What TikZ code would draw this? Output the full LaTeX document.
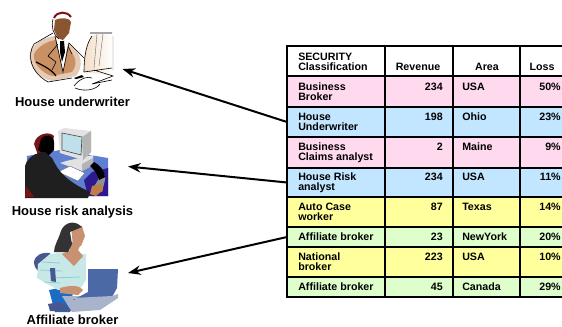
\documentclass[tikz,border=0pt]{standalone}
\usepackage{fontspec}
\setmainfont{Liberation Sans}
\usetikzlibrary{arrows.meta}
\definecolor{rpink}{HTML}{FFD9EE}
\definecolor{rblue}{HTML}{C2E6FF}
\definecolor{ryellow}{HTML}{FFFF9C}
\definecolor{rgreen}{HTML}{DEFFCC}
\definecolor{skinA}{HTML}{BE7C48}
\definecolor{skinB}{HTML}{F3DDC6}
\definecolor{skinC}{HTML}{8A5531}
\definecolor{deskblue}{HTML}{5F80D0}
\definecolor{deskdark}{HTML}{2E1A8C}
\definecolor{monlight}{HTML}{E2E2E2}
\definecolor{monmid}{HTML}{B4B4B4}
\definecolor{monscreen}{HTML}{BFE0EA}
\definecolor{hairred}{HTML}{7A1418}
\definecolor{lapblue}{HTML}{4A69A5}
\definecolor{lapgrey}{HTML}{A9B4CC}
\definecolor{chairblue}{HTML}{46588F}
\definecolor{jeansblue}{HTML}{1C6CC4}
\definecolor{topteal}{HTML}{C8E8E8}
\definecolor{topstreak}{HTML}{8CCCD8}
\definecolor{wskin}{HTML}{C89272}
\tikzset{
  x=0.75pt,y=-0.75pt,
  rowbox/.style={anchor=north west,inner sep=0pt,outer sep=0pt,minimum width=206.25pt},
  cell/.style={anchor=base west,inner sep=0pt,font=\bfseries\fontsize{8}{7.5}\selectfont,align=left},
  num/.style={anchor=base east,inner sep=0pt,font=\bfseries\fontsize{8}{7.5}\selectfont},
  hd/.style={anchor=base,inner sep=0pt,font=\bfseries\fontsize{8}{7.5}\selectfont},
  figlabel/.style={anchor=base,inner sep=0pt,font=\bfseries\fontsize{9.75}{11}\selectfont},
  conn/.style={-{Stealth[length=9.5pt,width=7pt]},line width=1.5pt,black},
  ink/.style={line width=0.45pt,black},
  faint/.style={line width=0.3pt,black!60}
}
\begin{document}
\begin{tikzpicture}
\useasboundingbox (0,0) rectangle (562,326);
% ---- table rows
\node[rowbox,fill=white,minimum height=22.5pt] (r0) at (287,46) {};
\node[rowbox,fill=rpink,minimum height=23.25pt] (r1) at (287,76) {};
\node[rowbox,fill=rblue,minimum height=22.5pt] (r2) at (287,107) {};
\node[rowbox,fill=rpink,minimum height=23.25pt] (r3) at (287,137) {};
\node[rowbox,fill=rblue,minimum height=21.75pt] (r4) at (287,168) {};
\node[rowbox,fill=ryellow,minimum height=22.5pt] (r5) at (287,197) {};
\node[rowbox,fill=rgreen,minimum height=15pt] (r6) at (287,227) {};
\node[rowbox,fill=ryellow,minimum height=22.5pt] (r7) at (287,247) {};
\node[rowbox,fill=rgreen,minimum height=15pt] (r8) at (287,277) {};
% grid
\foreach \yy in {76,107,137,168,197,227,247,277}
  \draw[line width=0.8pt] (287,\yy) -- (562,\yy);
\foreach \xx in {385,453,520}
  \draw[line width=0.8pt] (\xx,46) -- (\xx,297);
\draw[line width=1.8pt] (562,46) -- (287,46) -- (287,297) -- (562,297);
% ---- table text
\node[cell] at (298,70) {SECURITY\\Classification};
\node[hd] at (418,70) {Revenue};
\node[hd] at (487,70) {Area};
\node[hd] at (542,70) {Loss};
\node[cell] at (298,100) {Business\\Broker};
\node[cell] at (298,130) {House\\Underwriter};
\node[cell] at (298,160.5) {Business\\Claims analyst};
\node[cell] at (298,190) {House Risk\\analyst};
\node[cell] at (298,220.5) {Auto Case\\worker};
\node[cell] at (298,240.5) {Affiliate broker};
\node[cell] at (298,270.5) {National\\broker};
\node[cell] at (298,290.5) {Affiliate broker};
\foreach \yy/\a/\b/\c in {90/234/USA/50\%,120/198/Ohio/23\%,150.5/2/Maine/9\%,180/234/USA/11\%,210.5/87/Texas/14\%,240.5/23/NewYork/20\%,260.5/223/USA/10\%,290.5/45/Canada/29\%}{
  \node[num] at (443,\yy) {\a};
  \node[cell] at (462,\yy) {\b};
  \node[num] at (561,\yy) {\c};
}
% ---- underwriter
\fill[skinA!40!white] (30,52) .. controls (34,42) and (48,36) .. (56,36) -- (70,44) .. controls (82,54) and (84,66) .. (76,76) -- (52,81) .. controls (40,79) and (27,66) .. (30,52) -- cycle;
\fill[skinA!85!white] (34,54) .. controls (38,46) and (48,41) .. (56,40) -- (68,48) .. controls (76,56) and (78,64) .. (72,72) -- (52,76) .. controls (44,74) and (32,64) .. (34,54) -- cycle;
\fill[white] (56,38) -- (68,42) -- (63,72) -- cycle;
\shade[left color=skinB,right color=white,draw=none] (92,36) .. controls (100,33) and (108,34) .. (112,36) -- (113,76) -- (84,72) .. controls (83,58) and (86,44) .. (92,36) -- cycle;
\fill[skinC] (55,20) .. controls (62,17) and (70,18) .. (71,22) -- (69,33) -- (63,40) -- (58,38) -- (54,30) -- cycle;
\draw[ink] (53,19) .. controls (51,27) and (53,34) .. (59,39);
\fill[black] (60,41) -- (64,41) -- (65,52) -- (62,62) -- (60,52) -- cycle;
\draw[line width=1.5pt,color=hairred] (54,18) .. controls (57,11) and (67,11) .. (71,17);
\draw[ink] (53,33) -- (34,44) .. controls (27,55) and (30,72) .. (48,82) -- (72,78);
\draw[ink] (55,36) -- (63,72) -- (69,43) -- (84,58) (58,44) -- (48,56) -- (56,62) -- (52,70) (68,46) -- (72,54);
\draw[line width=0.9pt] (36,62) .. controls (44,66) and (52,70) .. (56,76);
\draw[ink] (92,36) .. controls (86,44) and (84,58) .. (84,72) (90,33) -- (112,33);
\draw[faint] (97,34) -- (94,68) (103,34) -- (99,66) (113,36) -- (113,70);
\draw[ink] (84,72) -- (112,68) (94,70) -- (113,76) -- (92,84) -- (112,80) (74,86) .. controls (80,78) and (88,76) .. (92,78) (75,88) .. controls (84,92) and (96,90) .. (100,84);
\fill[black] (74,78) -- (82,75) -- (84,77) -- (76,79) -- cycle;
\node[figlabel] (cap1) at (72.5,106.5) {House underwriter};
% ---- risk analyst
\fill[deskblue] (27,156) -- (60,150) -- (108,158) -- (108,196) -- (25,197) -- cycle;
\fill[deskdark] (84,180) -- (92,172) -- (108,168) -- (108,196) -- (88,196) -- cycle;
\fill[monlight] (66,161) -- (93,155) -- (93,165) -- (82,171) -- (60,163) -- cycle;
\fill[monmid] (82,171) -- (93,165) -- (93,158) -- (82,164) -- cycle;
\fill[white] (70,166) -- (85,173) -- (78,181) -- (58,172) -- cycle;
\draw[faint] (70,166) -- (85,173) -- (78,181) -- (58,172) -- cycle;
\fill[monlight] (58,131) -- (64,128) -- (91,131) -- (91,152) -- (83,160) -- (60,153) -- cycle;
\fill[monscreen] (62,133) -- (82,137) -- (81,155) -- (62,150) -- cycle;
\draw[black!70,line width=0.5pt] (62,133) -- (82,137) -- (81,155) -- (62,150) -- cycle;
\fill[monmid] (82,137) -- (91,131) -- (91,152) -- (83,160) -- cycle;
\fill[monmid!80!black] (100,172) .. controls (104,174) and (106,176) .. (105,180) -- (102,192) -- (92,190) -- (98,180) -- cycle;
\fill[black] (94,162) .. controls (100,165) and (104,170) .. (105,177) -- (99,180) .. controls (97,172) and (92,168) .. (90,166) -- cycle;
\fill[skinA] (92,186) -- (101,184) -- (103,190) -- (96,196) -- (90,194) -- cycle;
\fill[hairred] (34,144) .. controls (36,133) and (50,131) .. (54,136) -- (50,152) -- (38,155) -- cycle;
\fill[black] (41,139) .. controls (46,133) and (54,135) .. (54,142) -- (54,150) -- (48,156) -- (38,150) -- cycle;
\fill[black!88] (25,166) .. controls (28,156) and (38,152) .. (45,152) -- (52,158) .. controls (58,170) and (64,180) .. (90,192) -- (88,198) -- (25,198) -- cycle;
\fill[hairred] (26,186) -- (34,197) -- (25,197) -- cycle;
\node[figlabel] (cap2) at (72.5,215.5) {House risk analysis};
% ---- broker
\fill[chairblue] (34,262) .. controls (35,255) and (42,252) .. (50,253) -- (50,273) -- (40,272) .. controls (36,270) and (34,266) .. (34,262) -- cycle;
\fill[jeansblue] (49,290) -- (74,285) -- (70,312) -- (55,312) -- cycle;
\fill[chairblue] (48,304) -- (60,302) -- (75,311) -- (50,311) -- cycle;
\fill[lapgrey] (62,296) -- (100,296) -- (118,298) -- (100,310) -- (72,312) -- cycle;
\fill[topteal] (50,254) -- (68,252) -- (86,254) -- (86,280) -- (80,289) -- (58,290) -- (37,278) -- (38,264) -- cycle;
\draw[topstreak,line width=0.6pt] (42,262) -- (60,263) (40,270) -- (62,271) (52,278) -- (80,277) (68,258) -- (83,258) (44,282) -- (60,283);
\fill[chairblue] (50,268) -- (55,268) -- (56,282) -- (51,281) -- cycle;
\fill[wskin] (60,288) .. controls (70,285) and (80,285) .. (83,290) -- (78,295) -- (60,293) -- cycle;
\fill[wskin] (70,242) -- (82,242) -- (78,250) -- (83,256) -- (74,266) -- (62,254) -- (70,250) -- cycle;
\fill[wskin] (71,226) -- (82,226) -- (85,236) -- (81,246) -- (73,246) -- cycle;
\fill[black!80] (78,224) .. controls (70,220) and (62,225) .. (60,234) .. controls (58,240) and (54,246) .. (54,252) -- (68,252) -- (72,244) -- (70,232) -- (82,227) -- cycle;
\fill[lapblue] (88,269) -- (118,269) -- (117,288) -- (112,297) -- (73,300) -- (88,292) -- cycle;
\fill[lapgrey] (73,298) -- (112,296) -- (118,294) -- (118,298) -- (80,303) -- cycle;
\node[figlabel] (cap3) at (72.5,324) {Affiliate broker};
% ---- connectors
\coordinate (t1) at (122.5,69);
\coordinate (t2) at (128,166.5);
\coordinate (t3) at (128,273);
\draw[conn] (r2.west) -- (t1);
\draw[conn] (r4.west) -- (t2);
\draw[conn] (r6.west) -- (t3);
\end{tikzpicture}
\end{document}
